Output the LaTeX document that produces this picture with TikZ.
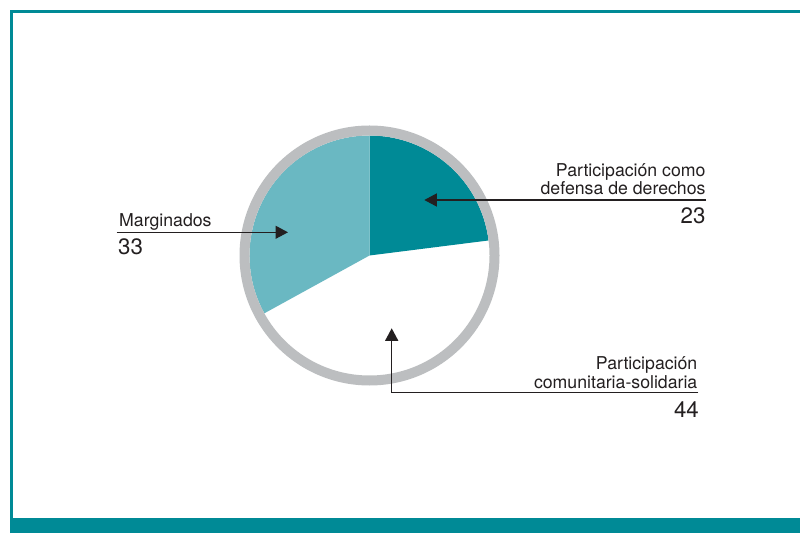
\documentclass[tikz,border=0pt]{standalone}
\usepackage{fontspec}
\setmainfont{TeX Gyre Heros}
\usetikzlibrary{arrows.meta}
\definecolor{tealdark}{HTML}{008A96}
\definecolor{teallight}{HTML}{6AB8C2}
\definecolor{ringgray}{HTML}{BCBEC0}
\definecolor{ink}{HTML}{231F20}
\tikzset{
  lbl/.style={inner sep=0pt, text=ink, font=\fontsize{17.7}{18.3}\selectfont},
  num/.style={inner sep=0pt, text=ink, font=\fontsize{22.3}{24}\selectfont},
  pointer/.style={draw=ink, line width=1.3pt, -{Triangle[length=12.5pt,width=13pt]}}
}
\begin{document}
\begin{tikzpicture}[x=1pt,y=1pt]
\useasboundingbox (0,0) rectangle (800,533);
% frame
\draw[tealdark, line width=3pt] (11.5,0) -- (11.5,521.5) -- (800,521.5);
\fill[tealdark] (10,0) rectangle (800,15);
% pie
\coordinate (c) at (369.5,277.5);
\fill[white] (c) circle[radius=120];
\fill[tealdark] (c) -- ++(90:120) arc[start angle=90, end angle=7.2, radius=120] -- cycle;
\fill[teallight] (c) -- ++(208.8:120) arc[start angle=208.8, end angle=90, radius=120] -- cycle;
\draw[ringgray, line width=10pt] (c) circle[radius=125];
% labels
\node[lbl, anchor=base east] (d1) at (705.7,356.3) {Participación como};
\node[lbl, anchor=base east] (d2) at (705.7,338) {defensa de derechos};
\node[num, anchor=base east] (dn) at (705.7,309) {23};
\node[lbl, anchor=base west] (m1) at (119,306.3) {Marginados};
\node[num, anchor=base west] (mn) at (118,278) {33};
\node[lbl, anchor=base east] (p1) at (697.5,164) {Participación};
\node[lbl, anchor=base east] (p2) at (697.5,144.7) {comunitaria-solidaria};
\node[num, anchor=base east] (pn) at (699,115.7) {44};
% pointers
\coordinate (dstart) at (706,333);
\coordinate (dtip) at (424.3,333);
\draw[pointer] (dstart) -- (dtip);
\coordinate (mstart) at (116.7,300.7);
\coordinate (mtip) at (288,300.7);
\draw[pointer] (mstart) -- (mtip);
\coordinate (pstart) at (698.3,140.3);
\coordinate (ptip) at (391.7,204.7);
\draw[pointer] (pstart) -| (ptip);
\end{tikzpicture}
\end{document}
